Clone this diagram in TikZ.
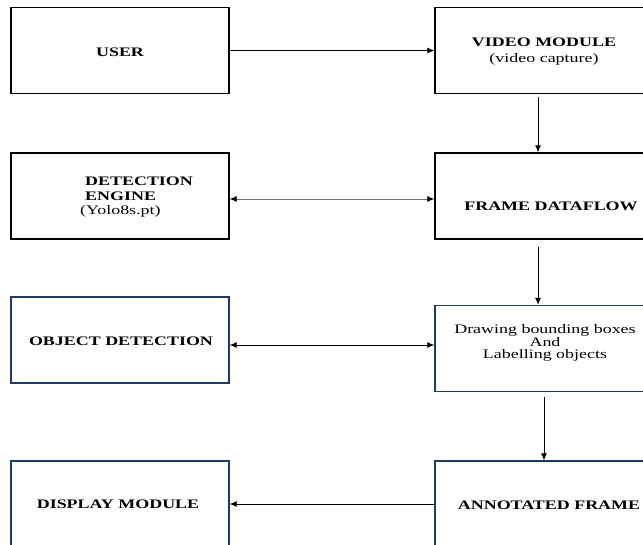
\documentclass[tikz,border=0pt]{standalone}
\usepackage{fontspec}
\setmainfont{Liberation Serif}[FakeStretch=1.38]
\usetikzlibrary{arrows.meta}
\definecolor{navy}{RGB}{31,56,100}
\begin{document}
\begin{tikzpicture}[x=1pt,y=-1pt,
  box/.style={draw=black, line width=1.4pt, minimum width=218pt, minimum height=86pt, inner sep=0pt},
  navybox/.style={box, draw=navy},
  lbl/.style={font=\fontsize{13}{14}\selectfont\bfseries, inner sep=0pt, align=center},
  arr/.style={-{Latex[length=7pt,width=6pt]}, line width=0.8pt},
  darr/.style={{Latex[length=7pt,width=6pt,color=black]}-{Latex[length=7pt,width=6pt,color=black]}, line width=0.8pt}]
\useasboundingbox (0,0) rectangle (643,544);
\clip (0,0) rectangle (643,544);
% boxes
\node[box] (user) at (120,50.5) {};
\node[box] (vm) at (544,50.5) {};
\node[box] (de) at (120,196) {};
\node[box] (fd) at (544,196) {};
\node[navybox] (od) at (120,340) {};
\node[navybox] (dbb) at (544,348.5) {};
\node[navybox] (dm) at (120,504) {};
\node[navybox] (af) at (544,504) {};
% texts
\node[lbl] (userT) at (120,52) {USER};
\node[lbl, font=\fontsize{13}{16}\selectfont\bfseries] (vmT) at (544,52) {VIDEO MODULE\\{\mdseries (video capture)}};
\node[lbl, align=left, anchor=west, font=\fontsize{13}{14.5}\selectfont\bfseries] (deT) at (80,197.5) {\hspace*{5pt}DETECTION\\\hspace*{5pt}ENGINE\\{\mdseries (Yolo8s.pt)}};
\node[lbl] (fdT) at (551,206) {FRAME DATAFLOW};
\node[lbl] (odT) at (121,341) {OBJECT DETECTION};
\node[lbl, font=\fontsize{13}{12.8}\selectfont] (dbbT) at (545,343) {Drawing bounding boxes\\And\\Labelling objects};
\node[lbl] (dmT) at (118,504) {DISPLAY MODULE};
\node[lbl] (afT) at (549,505) {ANNOTATED FRAME};
% connectors
\draw[arr] (user.east) -- (vm.west);
\draw[arr] ([xshift=-6pt,yshift=-3pt]vm.south) -- ([xshift=-6pt]fd.north);
\draw[darr, draw=black!55] ([yshift=-3pt]de.east) -- ([yshift=-3pt]fd.west);
\draw[arr] ([xshift=-6pt,yshift=-7pt]fd.south) -- ([xshift=-6pt]dbb.north);
\draw[darr] ([yshift=-5pt]od.east) -- ([yshift=3.5pt]dbb.west);
\draw[arr] ([yshift=-5pt]dbb.south) -- (af.north);
\draw[arr] (af.west) -- (dm.east);
\end{tikzpicture}
\end{document}
